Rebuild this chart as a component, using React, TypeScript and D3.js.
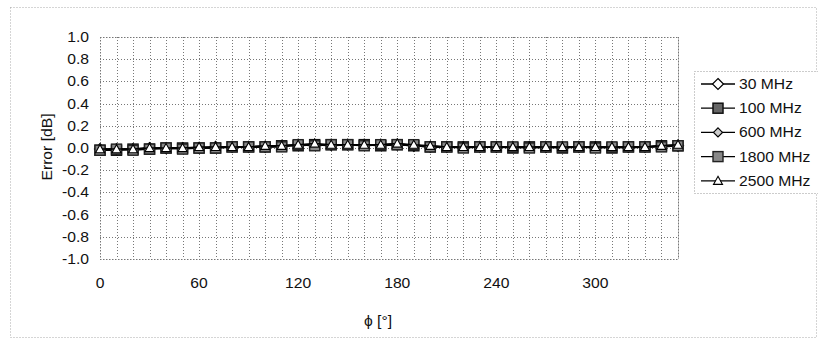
import React from "react";
import * as d3 from "d3";

const angles = [0,10,20,30,40,50,60,70,80,90,100,110,120,130,140,150,160,170,180,190,200,210,220,230,240,250,260,270,280,290,300,310,320,330,340,350];
const s30 = [-0.01,-0.01,-0.01,0,0,0,0,0.01,0.01,0.01,0.01,0.02,0.03,0.03,0.03,0.03,0.03,0.03,0.03,0.02,0.01,0.01,0.01,0.01,0.01,0.01,0.01,0.01,0.01,0.01,0.01,0.01,0.01,0.01,0.02,0.02];
const s100 = [-0.02,-0.02,-0.01,-0.01,0,0,0,0,0.01,0.01,0.01,0.02,0.02,0.03,0.03,0.03,0.03,0.02,0.03,0.02,0.01,0.01,0.01,0.01,0.01,0.0,0.01,0.01,0.0,0.01,0.01,0.0,0.01,0.01,0.02,0.02];
const s600 = [-0.01,-0.02,-0.01,0,-0.01,0,0,0.01,0.01,0.01,0.02,0.02,0.03,0.03,0.02,0.03,0.03,0.03,0.04,0.02,0.02,0.01,0.01,0.01,0.01,0.01,0.01,0.0,0.01,0.01,0.01,0.01,0.0,0.01,0.02,0.03];
const s1800 = [-0.02,-0.01,-0.02,-0.01,0,-0.01,0,0,0.01,0.01,0.01,0.01,0.03,0.02,0.03,0.03,0.02,0.03,0.03,0.03,0.01,0.01,0.0,0.01,0.01,0.01,0.0,0.01,0.01,0.01,0.0,0.01,0.01,0.01,0.01,0.02];
const s2500 = [-0.01,-0.01,-0.01,0,0,0,0.01,0.01,0.01,0.01,0.02,0.02,0.03,0.04,0.03,0.03,0.03,0.03,0.04,0.03,0.02,0.01,0.01,0.01,0.01,0.01,0.01,0.01,0.01,0.01,0.01,0.01,0.01,0.01,0.02,0.03];
const seriesNames = ["30 MHz", "100 MHz", "600 MHz", "1800 MHz", "2500 MHz"];
const seriesValues = [s30, s100, s600, s1800, s2500];
const seriesMarkers = ["diamond", "square", "smallDiamond", "square2", "triangle"];
const yTicks = [1.0,0.8,0.6,0.4,0.2,0.0,-0.2,-0.4,-0.6,-0.8,-1.0];
const xTicks = [0,60,120,180,240,300];
const xGrid = d3.range(0, 351, 10);

const FONT = "'Liberation Sans', Arial, sans-serif";
const FS = 14;
const SX = 1.12;

function T({ x, y, anchor, children, rotate }: { x: number; y: number; anchor?: string; children: React.ReactNode; rotate?: boolean }) {
  return (
    <g transform={`translate(${x},${y})${rotate ? " rotate(-90)" : ""} scale(${SX},1)`}>
      <text x={0} y={0} dy="0.35em" textAnchor={anchor || "start"} fontSize={FS} fill="#111">{children}</text>
    </g>
  );
}

function Marker({ type, x, y }: { type: string; x: number; y: number }) {
  if (type === "diamond") {
    const s = 5.5;
    return <path d={`M${x},${y - s}L${x + s},${y}L${x},${y + s}L${x - s},${y}Z`} fill="#fff" stroke="#000" strokeWidth={1.2} />;
  }
  if (type === "smallDiamond") {
    const s = 4.5;
    return <path d={`M${x},${y - s}L${x + s},${y}L${x},${y + s}L${x - s},${y}Z`} fill="#ccc" stroke="#000" strokeWidth={1.2} />;
  }
  if (type === "square") {
    const s = 5;
    return <rect x={x - s} y={y - s} width={2 * s} height={2 * s} fill="#666" stroke="#111" strokeWidth={1.5} />;
  }
  if (type === "square2") {
    const s = 5;
    return <rect x={x - s} y={y - s} width={2 * s} height={2 * s} fill="#888" stroke="#222" strokeWidth={1.4} />;
  }
  const s = 4.5;
  return <path d={`M${x},${y - s}L${x + s},${y + s * 0.8}L${x - s},${y + s * 0.8}Z`} fill="#fff" stroke="#000" strokeWidth={1.1} />;
}

export default function App() {
  const W = 818, H = 339;
  const left = 100, right = 678, top = 37, bottom = 259;
  const x = d3.scaleLinear().domain([0, 350]).range([left, right]);
  const y = d3.scaleLinear().domain([-1, 1]).range([bottom, top]);
  const line = d3.line<number>().x((_, i) => x(angles[i])).y((d) => y(d));

  const legX = 694, legY = 71;
  return (
    <svg width={W} height={H} style={{ position: "absolute", left: 0, top: 0, background: "#fff" }} fontFamily={FONT}>
      <rect x={10.5} y={7.5} width={806} height={330} fill="none" stroke="#aaa" strokeDasharray="1,2" />
      {xGrid.map((g) => (
        <line key={"vx" + g} x1={Math.round(x(g)) + 0.5} x2={Math.round(x(g)) + 0.5} y1={top} y2={bottom} stroke="#777" strokeDasharray="1,2" />
      ))}
      {yTicks.map((t) => (
        <line key={"hy" + t} x1={left} x2={right} y1={Math.round(y(t)) + 0.5} y2={Math.round(y(t)) + 0.5} stroke="#777" strokeDasharray="1,2" />
      ))}
      <rect x={left + 0.5} y={top + 0.5} width={right - left} height={bottom - top} fill="none" stroke="#777" strokeDasharray="1,2" />
      {yTicks.map((t) => (
        <T key={"yt" + t} x={89} y={y(t)} anchor="end">{d3.format(".1f")(t).replace("−", "-")}</T>
      ))}
      {xTicks.map((t) => (
        <T key={"xt" + t} x={x(t)} y={283} anchor="middle">{t}</T>
      ))}
      <T x={47} y={147} anchor="middle" rotate>Error [dB]</T>
      <T x={378} y={321} anchor="middle">ϕ [°]</T>
      {seriesValues.map((vals, si) => (
        <g key={"s" + si}>
          <path d={line(vals) || ""} fill="none" stroke="#000" strokeWidth={1.5} />
          {vals.map((v, i) => (
            <Marker key={i} type={seriesMarkers[si]} x={x(angles[i])} y={y(v)} />
          ))}
        </g>
      ))}
      <rect x={legX + 0.5} y={legY + 0.5} width={130} height={122} fill="#fff" stroke="#999" strokeDasharray="1,2" />
      {seriesNames.map((n, i) => {
        const cy = 84 + i * 24.2;
        return (
          <g key={"l" + i}>
            <line x1={701} x2={735} y1={cy} y2={cy} stroke="#000" strokeWidth={1.3} />
            <Marker type={seriesMarkers[i]} x={718} y={cy} />
            <T x={739} y={cy}>{n}</T>
          </g>
        );
      })}
    </svg>
  );
}
